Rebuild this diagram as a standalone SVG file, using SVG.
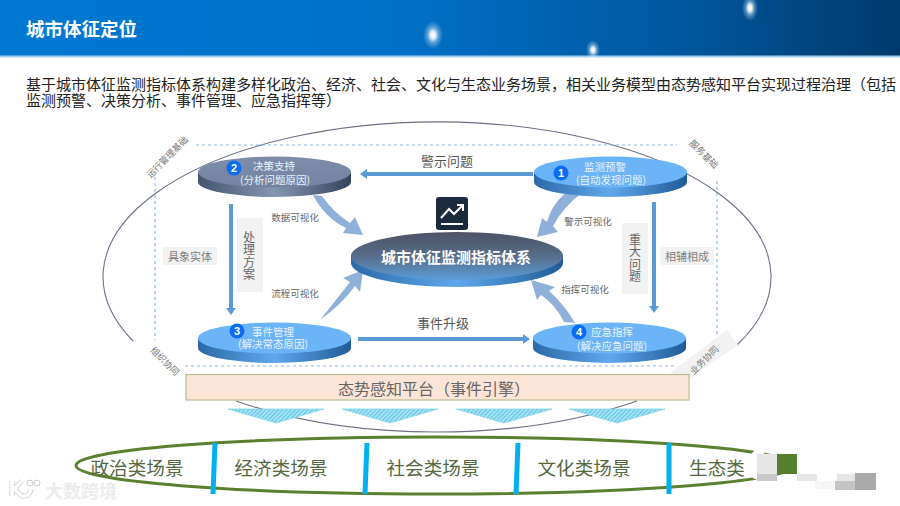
<svg xmlns="http://www.w3.org/2000/svg" width="900" height="506" viewBox="0 0 900 506">
<style>
text{font-family:"Noto Sans CJK SC","Liberation Sans",sans-serif;text-anchor:middle;dominant-baseline:central}
.para{text-anchor:start;font-size:15px;fill:#222}
.dt{fill:#eaf3fc;font-size:10.5px}
.num{fill:#fff;font-size:11px;font-weight:700;font-family:"Liberation Sans",sans-serif}
.badge{fill:#0a6cf2}
.top{fill:#6bb4f8}
.side{fill:url(#sideBlue)}
.lab{fill:#666;font-size:9.5px}
.chip{fill:#f2f2f2}
.chipt{fill:#808080;font-size:11px}
.vt{fill:#666;font-size:12px;writing-mode:vertical-rl;text-orientation:upright;letter-spacing:.4px}
.corner{fill:#777;font-size:9px}
.flow{stroke:#5b9bd5;stroke-width:4;fill:none}
.head{fill:#5b9bd5}
.fat{fill:#8fb0d9}
.dash{stroke:#8db8ec;stroke-width:1.2;stroke-dasharray:3 3;fill:none}
.orbit{stroke:#6c7088;stroke-width:1.1;fill:none}
.tri{fill:url(#hatch);stroke:#86d6ee;stroke-width:.8}
.div{stroke:#00b0f0;stroke-width:5}
.scene{fill:#55683f;font-size:18.6px}
.star{fill:url(#glow)}
</style>
<defs>
<linearGradient id="band" x1="0" x2="1" y1="0" y2="0"><stop offset="0" stop-color="#0078d2"/><stop offset=".45" stop-color="#0070c6"/><stop offset=".75" stop-color="#0058a0"/><stop offset="1" stop-color="#003a6c"/></linearGradient>
<radialGradient id="glow"><stop offset="0" stop-color="#fff"/><stop offset=".25" stop-color="#fff" stop-opacity=".9"/><stop offset=".55" stop-color="#fff" stop-opacity=".35"/><stop offset="1" stop-color="#fff" stop-opacity="0"/></radialGradient>
<linearGradient id="sideBlue" x1="0" x2="1" y1="0" y2="0"><stop offset="0" stop-color="#2c6aa8"/><stop offset=".5" stop-color="#5fa8ec"/><stop offset="1" stop-color="#1f5b98"/></linearGradient>
<linearGradient id="sideGrey" x1="0" x2="1" y1="0" y2="0"><stop offset="0" stop-color="#44566e"/><stop offset=".5" stop-color="#8496b0"/><stop offset="1" stop-color="#34465e"/></linearGradient>
<linearGradient id="topGrey" x1="0" x2="0" y1="0" y2="1"><stop offset="0" stop-color="#7d8dab"/><stop offset="1" stop-color="#7284a2"/></linearGradient>
<linearGradient id="coreTop" x1="0" x2="0" y1="0" y2="1"><stop offset="0" stop-color="#4d5364"/><stop offset=".5" stop-color="#566d8a"/><stop offset="1" stop-color="#5c9cd6"/></linearGradient>
<pattern id="hatch" width="3" height="3" patternUnits="userSpaceOnUse" patternTransform="rotate(45)"><rect width="3" height="3" fill="#b4e6f5"/><rect width="1.3" height="3" fill="#5cc6e6"/></pattern>
</defs>

<g id="header">
<rect x="0" y="0" width="900" height="56" fill="url(#band)"/>
<rect x="0" y="55.500" width="900" height="2" fill="#a4cdee"/>
<ellipse class="star" cx="433" cy="35" rx="10" ry="14"/>
<ellipse class="star" cx="593" cy="50" rx="7" ry="10"/>
<ellipse class="star" cx="750" cy="8" rx="8" ry="13"/>
<text x="81.500" y="28" fill="#fff" font-size="18.500" font-weight="700">城市体征定位</text>
</g>
<g id="intro">
<text class="para"><tspan x="26" y="83">基于城市体征监测指标体系构建多样化政治、经济、社会、文化与生态业务场景，相关业务模型由态势感知平台实现过程治理（包括</tspan><tspan x="26" y="99">监测预警、决策分析、事件管理、应急指挥等）</tspan></text>
</g>

<g id="frame">
<path class="orbit" d="M133,341 A334,155 0 1 1 737,345"/>
<path class="orbit" d="M236,401 A334,155 0 0 0 637,401"/>
<path class="dash" d="M196,145 H677 M155,177 V340 M717,181 V335 M185,366 H675"/>
</g>

<g id="corner-labels">
<polygon points="727,330 738,345 689,379 670,373" fill="#f2f2f2"/>
<text class="corner" transform="translate(167,157) rotate(-45)">运行管理基础</text>
<text class="corner" transform="translate(704,154) rotate(45)">服务基础</text>
<text class="corner" transform="translate(165,361) rotate(45)">组织协同</text>
<text class="corner" transform="translate(704,360) rotate(-45)">业务协同</text>
</g>

<g id="connectors">
<path class="flow" d="M533,174 H367"/><polygon class="head" points="360,174 367,169 367,179"/>
<path class="flow" d="M231,204 V309"/><polygon class="head" points="231,315 226,308 236,308"/>
<path class="flow" d="M654,202 V307"/><polygon class="head" points="654,313 649,306 659,306"/>
<path class="flow" d="M358,339 H524"/><polygon class="head" points="530,339 523,334 523,344"/>
<path class="fat" d="M313,195 L322,196 Q333,212 350,223 L355,217 L363,235 L343,233 L346,228 Q325,218 313,195Z"/>
<path class="fat" d="M584,191 L570,190 Q553,201 547,222 L542,218 L537,237 L558,232 L553,226 Q562,208 584,191Z"/>
<path class="fat" d="M320,320 Q336,300 350,282 L343,278 L363,270 L360,292 L355,286 Q342,304 320,320Z"/>
<path class="fat" d="M575,323 L564,322 Q555,304 541,295 L537,300 L531,280 L555,287 L549,291 Q564,304 575,323Z"/>
</g>

<g id="connector-labels">
<text x="447" y="160" fill="#555" font-size="13">警示问题</text>
<text x="443" y="322" fill="#555" font-size="13">事件升级</text>
<text class="lab" x="295" y="217">数据可视化</text>
<text class="lab" x="588" y="221">警示可视化</text>
<text class="lab" x="295" y="293">流程可视化</text>
<text class="lab" x="585" y="289">指挥可视化</text>
<rect class="chip" x="237" y="218" width="26" height="74"/>
<text class="vt" x="249" y="256">处理方案</text>
<rect class="chip" x="622" y="223" width="26" height="71"/>
<text class="vt" x="635" y="258">重大问题</text>
<rect class="chip" x="163" y="247" width="54" height="18"/>
<text class="chipt" x="190" y="256">具象实体</text>
<rect class="chip" x="660" y="247" width="54" height="18"/>
<text class="chipt" x="687" y="256">相辅相成</text>
</g>

<g id="node-decision">
<path d="M198,172 V182 A76.500,15 0 0 0 351,182 V172Z" fill="url(#sideGrey)"/>
<ellipse cx="274.500" cy="172" rx="76.500" ry="15.500" fill="url(#topGrey)"/>
<circle class="badge" cx="234" cy="168" r="7.500"/><text class="num" x="234" y="168">2</text>
<text class="dt"><tspan x="274" y="165">决策支持</tspan><tspan x="275" y="179">(分析问题原因)</tspan></text>
</g>
<g id="node-monitor">
<path class="side" d="M534,172 V182 A76.500,15 0 0 0 687,182 V172Z"/>
<ellipse class="top" cx="610.500" cy="172" rx="76.500" ry="15.500"/>
<circle class="badge" cx="561" cy="173" r="7.500"/><text class="num" x="561" y="173">1</text>
<text class="dt"><tspan x="605" y="166">监测预警</tspan><tspan x="611" y="179">(自动发现问题)</tspan></text>
</g>
<g id="node-event">
<path class="side" d="M198,338 V348 A76.500,15 0 0 0 351,348 V338Z"/>
<ellipse class="top" cx="274.500" cy="338" rx="76.500" ry="15.500"/>
<circle class="badge" cx="237" cy="331" r="7.500"/><text class="num" x="237" y="331">3</text>
<text class="dt"><tspan x="273" y="331">事件管理</tspan><tspan x="273" y="343">(解决常态原因)</tspan></text>
</g>
<g id="node-emergency">
<path class="side" d="M533,338 V348 A76.500,15 0 0 0 686,348 V338Z"/>
<ellipse class="top" cx="609.500" cy="338" rx="76.500" ry="15.500"/>
<circle class="badge" cx="579" cy="332" r="7.500"/><text class="num" x="579" y="332">4</text>
<text class="dt"><tspan x="612" y="331">应急指挥</tspan><tspan x="612" y="345">(解决应急问题)</tspan></text>
</g>
<g id="node-core">
<path class="side" d="M351,256 V263 A106,24 0 0 0 563,263 V256Z"/>
<ellipse cx="457" cy="256" rx="106" ry="24" fill="url(#coreTop)"/>
<text x="456" y="256" fill="#fff" font-size="15" font-weight="700">城市体征监测指标体系</text>
</g>
<g id="node-icon">
<rect x="436" y="197" width="32" height="33" rx="3" fill="#1b2a3d"/>
<path d="M441,218 L449,209 L454,214 L463,205 M457,205 H463 V211" fill="none" stroke="#fff" stroke-width="2"/>
<path d="M441,224 H463" stroke="#fff" stroke-width="2"/>
</g>

<g id="node-platform">
<rect x="186" y="374.500" width="503" height="25.500" fill="#fce4d6" stroke="#b8bc92" stroke-width="1.200"/>
<text x="434" y="388" fill="#666" font-size="16">态势感知平台（事件引擎）</text>
</g>

<g id="feeds">
<polygon class="tri" points="228,409 324,409 276,423"/>
<polygon class="tri" points="342,409 438,409 390,423"/>
<polygon class="tri" points="456,409 552,409 504,423"/>
<polygon class="tri" points="569,409 665,409 617,423"/>
</g>

<g id="node-scenes">
<ellipse cx="435" cy="465.500" rx="359" ry="28.500" fill="none" stroke="#5b8030" stroke-width="3"/>
<path class="div" d="M215,443 L213,494 M367,443 L365,494 M518,443 L516,494 M669,443 V494"/>
<text class="scene" x="137" y="466">政治类场景</text>
<text class="scene" x="281" y="466">经济类场景</text>
<text class="scene" x="433" y="466">社会类场景</text>
<text class="scene" x="584" y="466">文化类场景</text>
<text class="scene" x="717" y="466">生态类</text>
</g>

<g id="mosaic">
<ellipse cx="758" cy="465" rx="10" ry="15" fill="#fff"/>
<rect x="757" y="454" width="20" height="20" fill="#e6e6e6"/>
<rect x="777" y="454" width="20" height="20" fill="#558030"/>
<rect x="757" y="474" width="20" height="7" fill="#c8c8c8"/>
<rect x="797" y="474" width="20" height="7" fill="#e6e6e4"/>
<rect x="815" y="481" width="20" height="8" fill="#f6f6f6"/>
<rect x="837" y="474" width="19" height="7" fill="#e6e6e6"/>
<rect x="835" y="481" width="20" height="9" fill="#c4c4c4"/>
<rect x="855" y="473" width="21" height="17" fill="#aaa"/>
</g>

<g id="watermark">
<path d="M12,481 V496 M22,481 L14,489 L22,496 Q30,497 31,489" fill="none" stroke="#ccc" stroke-width="5"/>
<path d="M12,481 V496 M22,481 L14,489 L22,496 Q30,497 31,489" fill="none" stroke="#fff" stroke-width="3.500"/>
<circle cx="30" cy="483" r="3" fill="#fff" stroke="#ccc"/><circle cx="37" cy="483" r="3" fill="#fff" stroke="#ccc"/>
<text x="81" y="490" fill="#ececec" font-size="18" font-weight="700">大数跨境</text>
</g>
</svg>
